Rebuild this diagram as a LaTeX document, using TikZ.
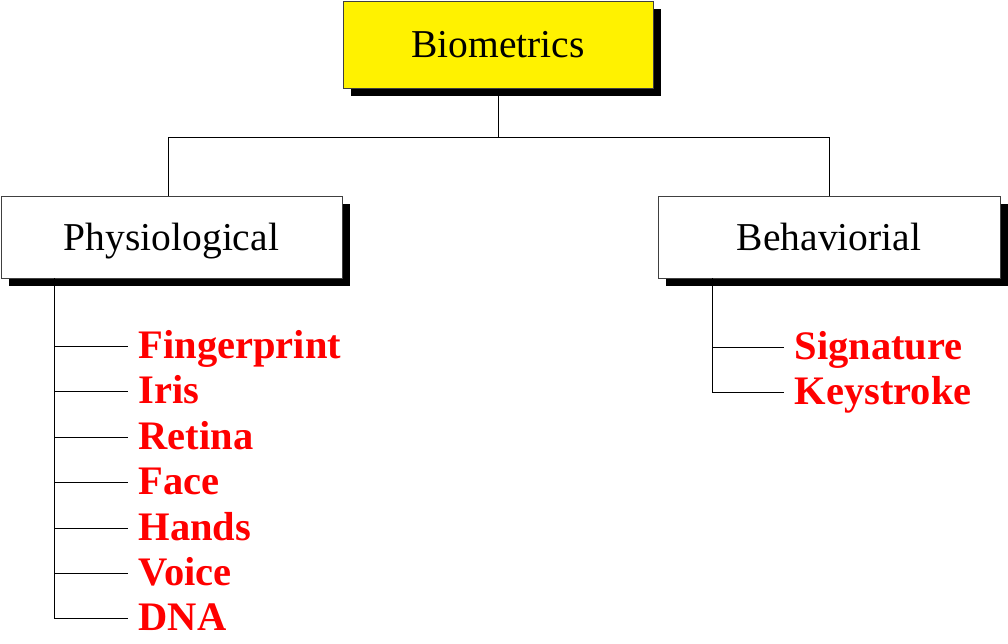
\documentclass[tikz,border=0pt]{standalone}
\usepackage{fontspec}
\setmainfont{Liberation Serif}
\usetikzlibrary{shadows}
\begin{document}
\begin{tikzpicture}[x=1pt,y=-1pt,
  box/.style={draw=black!75, line width=0.8pt, inner sep=0pt,
    general shadow={fill=black, shadow xshift=8pt, shadow yshift=-8pt},
    font=\fontsize{39.5}{39.5}\selectfont, text height=26pt, text depth=0pt},
  item/.style={anchor=west, inner xsep=10.5pt, inner ysep=0pt, text=red,
    font=\fontsize{40.5}{40.5}\selectfont\bfseries, text height=25pt, text depth=0pt},
  link/.style={draw=black, line width=0.9pt}]
\useasboundingbox (0,0) rectangle (1008,644);
% boxes
\node[box, fill=yellow, minimum width=310pt, minimum height=87pt] (bio) at (498,45) {Biometrics};
\node[box, fill=white, minimum width=341pt, minimum height=82pt] (phys) at (171.5,237) {Physiological};
\node[box, fill=white, minimum width=342pt, minimum height=82pt] (beh) at (829,237) {Behaviorial};
% tree connectors
\coordinate (jn) at ([yshift=-49pt]bio.south);
\coordinate (pt) at ([xshift=-3.5pt]phys.north);
\draw[link] (bio.south) -- (jn) -| (pt);
\draw[link] (jn) -| (beh.north);
% left list
\coordinate (pl) at (54.5,278);
\node[item] (fin) at (128,346) {Fingerprint};
\node[item] (iri) at (128,391) {Iris};
\node[item] (ret) at (128,437) {Retina};
\node[item] (fac) at (128,482) {Face};
\node[item] (han) at (128,528) {Hands};
\node[item] (voi) at (128,573) {Voice};
\node[item] (dna) at (128,618) {DNA};
\draw[link] (pl) -- (pl |- dna.west) -- (dna.west);
\foreach \n in {fin,iri,ret,fac,han,voi} \draw[link] (pl |- \n.west) -- (\n.west);
% right list
\coordinate (pr) at (712,278);
\node[item] (sig) at (784,347) {Signature};
\node[item] (key) at (784,392) {Keystroke};
\draw[link] (pr) -- (pr |- key.west) -- (key.west);
\draw[link] (pr |- sig.west) -- (sig.west);
\end{tikzpicture}
\end{document}
